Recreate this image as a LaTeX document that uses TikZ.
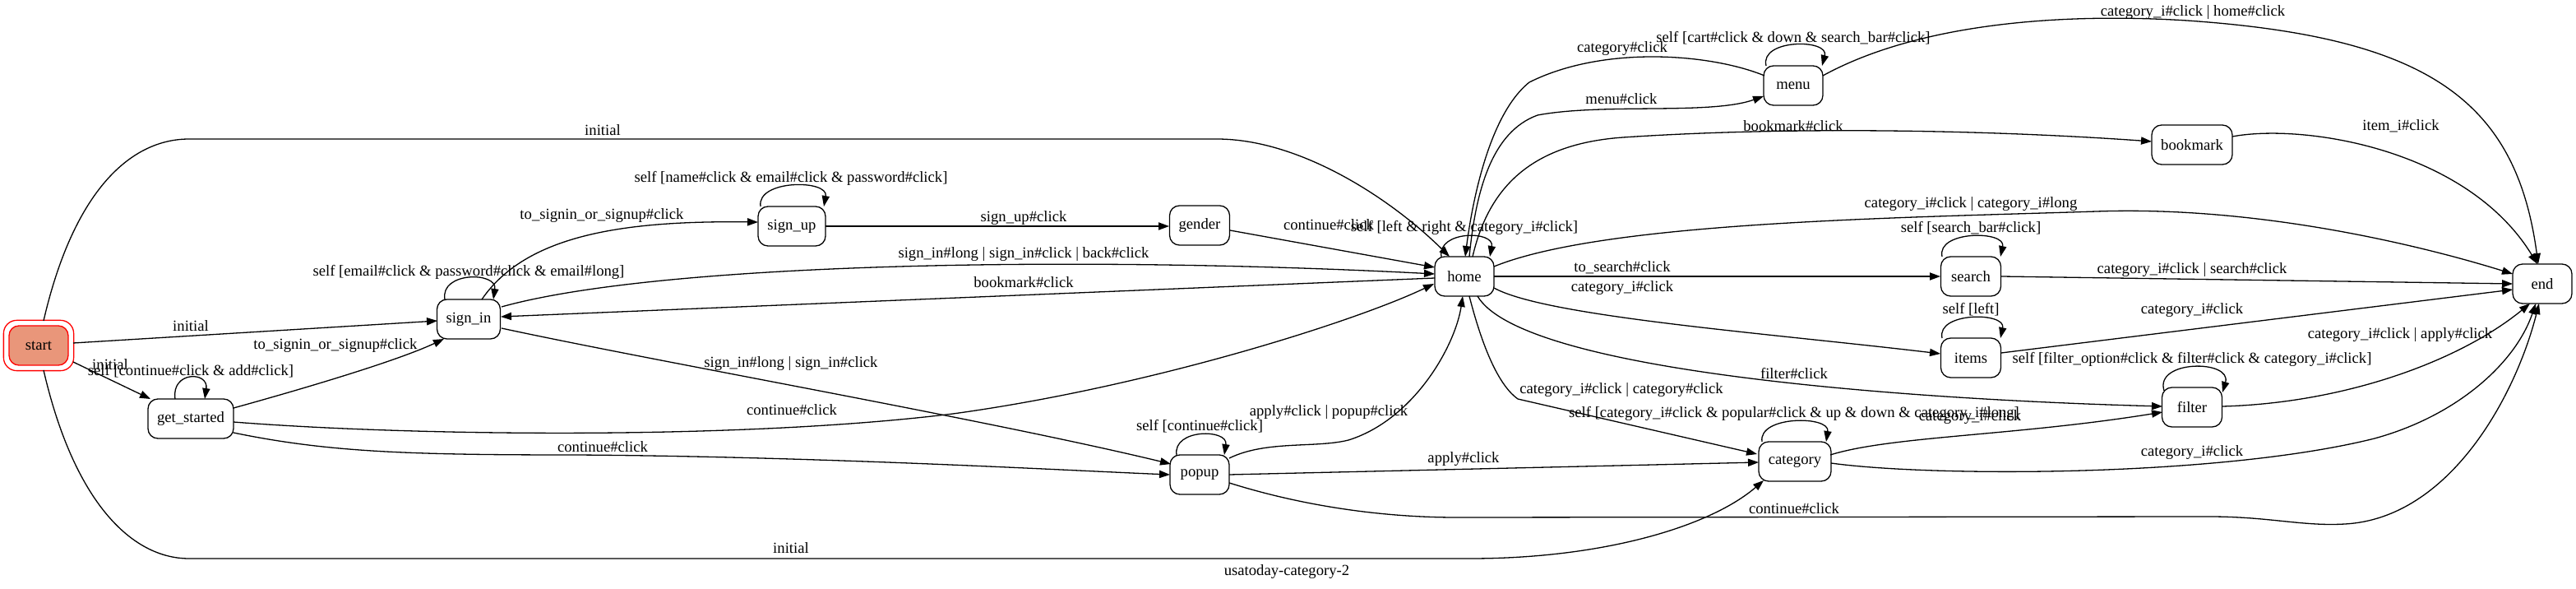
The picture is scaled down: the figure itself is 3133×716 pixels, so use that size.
\documentclass[tikz,border=0pt]{standalone}
\usepackage{fontspec}
\setmainfont{Liberation Serif}
\usetikzlibrary{arrows.meta,calc}
\definecolor{gvsalmon}{RGB}{233,150,122}
\newcommand{\gvfont}{\fontsize{9.33pt}{11pt}\selectfont}
\begin{document}
\begin{tikzpicture}[x=0.5pt,y=-0.5pt, line width=0.65pt,
  st/.style={draw, rounded corners=6pt, minimum height=24pt, minimum width=#1, inner sep=1pt, font=\gvfont},
  st/.default=36pt,
  lbl/.style={inner sep=0pt, font=\gvfont},
  arr/.style={-{Triangle[length=6.5pt,width=4.6pt]}}]
\useasboundingbox (0,0) rectangle (3133,716);

% nodes
\node[st=36pt, fill=gvsalmon, draw=red] (start) at (47,420) {start};
\draw[red, rounded corners=8pt] ($(start.north west)+(-6,-6)$) rectangle ($(start.south east)+(6,6)$);
\node[st=52pt] (get_started) at (232,509) {get\_started};
\node[st=38.5pt] (sign_in) at (570,388) {sign\_in};
\node[st=41pt] (sign_up) at (963,275) {sign\_up};
\node[st=36.5pt] (gender) at (1459,274) {gender};
\node[st] (home) at (1781,336) {home};
\node[st] (popup) at (1459,577) {popup};
\node[st] (menu) at (2181,104) {menu};
\node[st=49pt] (bookmark) at (2666,176) {bookmark};
\node[st=36.5pt] (search) at (2397,336) {search};
\node[st=36.5pt] (items) at (2397,435) {items};
\node[st=36.5pt] (filter) at (2666,495) {filter};
\node[st=44pt] (category) at (2183,561) {category};
\node[st] (end) at (3092,345) {end};

% edges
% start -> home (initial, top)
\draw[arr] ($(start)+(6,-30)$) .. controls (90,230) and (160,169) .. (230,169) -- (1480,169) .. controls (1580,169) and (1690,240) .. ($(home)+(-18,-24)$);
\node[lbl] (l1) at (733,158) {initial};
% start -> sign_in
\draw[arr] ($(start)+(42,-3)$) -- ($(sign_in)+(-38,2)$);
\node[lbl] (l2) at (232,396) {initial};
% start -> get_started
\draw[arr] ($(start)+(42,20)$) -- ($(get_started)+(-49,-24)$);
\node[lbl] (l3) at (134,443) {initial};
% get_started loop
\draw[arr] ($(get_started)+(-19,-24)$) .. controls (208,451) and (254,451) .. ($(get_started)+(17,-24)$);
\node[lbl] (l4) at (232,451) {self [continue\#click \& add\#click]};
% start -> category (initial, bottom)
\draw[arr] ($(start)+(6,30)$) .. controls (90,610) and (160,679) .. (230,679) -- (1788,679) .. controls (1950,679) and (2080,640) .. ($(category)+(-38,23)$);
\node[lbl] (l5) at (962,666) {initial};
% get_started -> sign_in
\draw[arr] ($(get_started)+(52,-13)$) .. controls (360,475) and (480,440) .. ($(sign_in)+(-30,24)$);
\node[lbl] (l6) at (408,420) {to\_signin\_or\_signup\#click};
% sign_in loop
\draw[arr] ($(sign_in)+(-29,-24)$) .. controls (535,330) and (605,330) .. ($(sign_in)+(30,-24)$);
\node[lbl] (l7) at (570,331) {self [email\#click \& password\#click \& email\#long]};
% sign_in -> sign_up
\draw[arr] ($(sign_in)+(16,-24)$) .. controls (640,285) and (760,268) .. ($(sign_up)+(-41,-5)$);
\node[lbl] (l8) at (732,262) {to\_signin\_or\_signup\#click};
% sign_up loop
\draw[arr] ($(sign_up)+(-38,-24)$) .. controls (920,218) and (1008,218) .. ($(sign_up)+(39,-24)$);
\node[lbl] (l9) at (962,217) {self [name\#click \& email\#click \& password\#click]};
% sign_up -> gender
\draw[arr] ($(sign_up)+(41,0)$) -- ($(gender)+(-37,1)$);
\node[lbl] (l10) at (1245,265) {sign\_up\#click};
% gender -> home
\draw[arr] ($(gender)+(37,6)$) -- ($(home)+(-36,-11)$);
\node[lbl] (l11) at (1616,273) {continue\#click};
% home loop
\draw[arr] ($(home)+(-28,-24)$) .. controls (1748,280) and (1818,280) .. ($(home)+(31,-24)$);
\node[lbl] (l12) at (1781,277) {self [left \& right \& category\_i\#click]};
% sign_in -> home
\draw[arr] ($(sign_in)+(40,-15)$) .. controls (800,320) and (1300,310) .. ($(home)+(-36,-3)$);
\node[lbl] (l13) at (1245,309) {sign\_in\#long | sign\_in\#click | back\#click};
% home -> sign_in
\draw[arr] ($(home)+(-36,2)$) -- ($(sign_in)+(39,-3)$);
\node[lbl] (l14) at (1245,343) {bookmark\#click};
% sign_in -> popup
\draw[arr] ($(sign_in)+(40,11)$) .. controls (800,440) and (1200,510) .. ($(popup)+(-35,-13)$);
\node[lbl] (l15) at (962,442) {sign\_in\#long | sign\_in\#click};
% get_started -> home
\draw[arr] ($(get_started)+(52,4)$) .. controls (500,530) and (900,535) .. (1159,503) .. controls (1400,470) and (1650,390) .. ($(home)+(-37,9)$);
\node[lbl] (l16) at (963,498) {continue\#click};
% get_started -> popup
\draw[arr] ($(get_started)+(52,17)$) .. controls (400,550) and (500,553) .. (700,553) .. controls (1000,555) and (1300,572) .. ($(popup)+(-36,0)$);
\node[lbl] (l17) at (733,543) {continue\#click};
% popup loop
\draw[arr] ($(popup)+(-28,-24)$) .. controls (1426,521) and (1494,521) .. ($(popup)+(30,-24)$);
\node[lbl] (l18) at (1459,518) {self [continue\#click]};
% popup -> home
\draw[arr] ($(popup)+(36,-20)$) .. controls (1540,535) and (1600,545) .. (1640,535) .. controls (1720,510) and (1770,420) .. ($(home)+(-2,24)$);
\node[lbl] (l19) at (1616,501) {apply\#click | popup\#click};
% popup -> category
\draw[arr] ($(popup)+(36,0)$) -- ($(category)+(-44,1)$);
\node[lbl] (l20) at (1780,558) {apply\#click};
% popup -> end
\draw[arr] ($(popup)+(36,10)$) .. controls (1600,620) and (1700,629) .. (1771,629) -- (2687,628) .. controls (2760,628) and (2800,640) .. (2852,637) .. controls (2980,630) and (3060,480) .. ($(end)+(-4,24)$);
\node[lbl] (l21) at (2182,618) {continue\#click};
% home -> menu
\draw[arr] ($(home)+(6,-24)$) .. controls (1795,230) and (1815,160) .. (1870,140) .. controls (1950,125) and (2080,140) .. ($(menu)+(-36,13)$);
\node[lbl] (l22) at (1972,120) {menu\#click};
% menu -> home
\draw[arr] ($(menu)+(-35,-12)$) .. controls (2080,65) and (1950,55) .. (1860,100) .. controls (1810,140) and (1790,250) .. ($(home)+(1,-24)$);
\node[lbl] (l23) at (1973,59) {category\#click};
% menu loop
\draw[arr] ($(menu)+(-33,-24)$) .. controls (2140,47) and (2225,47) .. ($(menu)+(35,-24)$);
\node[lbl] (l24) at (2181,46) {self [cart\#click \& down \& search\_bar\#click]};
% menu -> end
\draw[arr] ($(menu)+(36,-12)$) .. controls (2330,30) and (2500,15) .. (2660,25) .. controls (2950,45) and (3060,120) .. ($(end)+(-5,-24)$);
\node[lbl] (l25) at (2667,15) {category\_i\#click | home\#click};
% home -> bookmark
\draw[arr] ($(home)+(10,-24)$) .. controls (1810,230) and (1860,175) .. (1974,167) .. controls (2200,152) and (2450,160) .. ($(bookmark)+(-49,-4)$);
\node[lbl] (l26) at (2181,153) {bookmark\#click};
% bookmark -> end
\draw[arr] ($(bookmark)+(49,-10)$) .. controls (2800,150) and (3000,180) .. ($(end)+(-6,-24)$);
\node[lbl] (l27) at (2920,153) {item\_i\#click};
% home -> end
\draw[arr] ($(home)+(36,-12)$) .. controls (1950,270) and (2300,265) .. (2550,257) .. controls (2750,250) and (2950,300) .. ($(end)+(-36,-12)$);
\node[lbl] (l28) at (2397,248) {category\_i\#click | category\_i\#long};
% home -> search
\draw[arr] ($(home)+(36,0)$) -- ($(search)+(-37,0)$);
\node[lbl] (l29) at (1973,325) {to\_search\#click};
% search loop
\draw[arr] ($(search)+(-35,-24)$) .. controls (2355,280) and (2440,280) .. ($(search)+(36,-24)$);
\node[lbl] (l30) at (2397,277) {self [search\_bar\#click]};
% search -> end
\draw[arr] ($(search)+(37,0)$) -- ($(end)+(-36,0)$);
\node[lbl] (l31) at (2666,328) {category\_i\#click | search\#click};
% home -> items
\draw[arr] ($(home)+(36,14)$) .. controls (1880,385) and (2150,405) .. ($(items)+(-37,-5)$);
\node[lbl] (l32) at (1973,350) {category\_i\#click};
% items loop
\draw[arr] ($(items)+(-35,-24)$) .. controls (2355,379) and (2440,379) .. ($(items)+(36,-24)$);
\node[lbl] (l33) at (2397,376) {self [left]};
% items -> end
\draw[arr] ($(items)+(37,-6)$) -- ($(end)+(-36,7)$);
\node[lbl] (l34) at (2666,377) {category\_i\#click};
% home -> filter
\draw[arr] ($(home)+(16,24)$) .. controls (1850,450) and (2300,485) .. ($(filter)+(-36,-1)$);
\node[lbl] (l35) at (2182,454) {filter\#click};
% filter loop
\draw[arr] ($(filter)+(-34,-20)$) .. controls (2620,437) and (2715,437) .. ($(filter)+(37,-18)$);
\node[lbl] (l36) at (2666,437) {self [filter\_option\#click \& filter\#click \& category\_i\#click]};
% filter -> end
\draw[arr] ($(filter)+(37,-1)$) .. controls (2850,490) and (2990,440) .. ($(end)+(-15,24)$);
\node[lbl] (l37) at (2919,407) {category\_i\#click | apply\#click};
% home -> category
\draw[arr] ($(home)+(6,24)$) .. controls (1805,430) and (1825,470) .. (1846,485) -- ($(category)+(-46,-9)$);
\node[lbl] (l38) at (1972,474) {category\_i\#click | category\#click};
% category loop
\draw[arr] ($(category)+(-40,-24)$) .. controls (2138,505) and (2226,505) .. ($(category)+(38,-24)$);
\node[lbl] (l39) at (2182,503) {self [category\_i\#click \& popular\#click \& up \& down \& category\_i\#long]};
% category -> filter
\draw[arr] ($(category)+(43,-8)$) .. controls (2300,530) and (2450,530) .. ($(filter)+(-36,6)$);
\node[lbl] (l40) at (2396,507) {category\_i\#click};
% category -> end
\draw[arr] ($(category)+(44,2)$) .. controls (2350,580) and (2700,580) .. (2888,533) .. controls (2990,505) and (3060,440) .. ($(end)+(-8,24)$);
\node[lbl] (l41) at (2666,550) {category\_i\#click};

% graph label
\node[lbl] (glabel) at (1565,695) {usatoday-category-2};
\end{tikzpicture}
\end{document}
